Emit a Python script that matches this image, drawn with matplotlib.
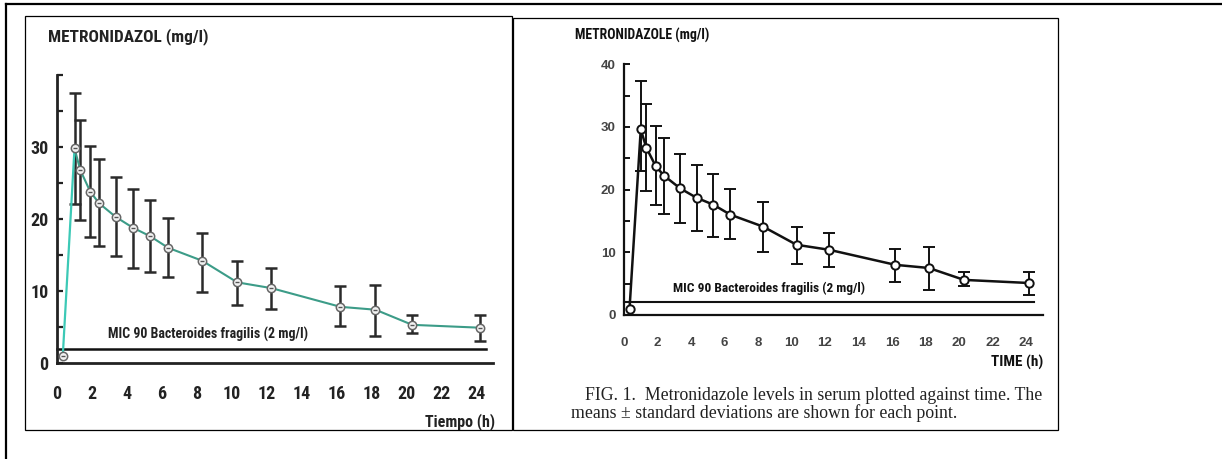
import matplotlib.pyplot as plt
from matplotlib.patches import Rectangle
from matplotlib.lines import Line2D

W, H = 1222, 459

# sampling times (h) and serum levels (mg/l)
tiempo = [0.33, 1.0, 1.33, 1.9, 2.4, 3.35, 4.33, 5.33, 6.35, 8.3, 10.3, 12.25, 16.2, 18.2, 20.3, 24.2]

# left panel (spanish redraw)
media_izq = [1.0, 29.8, 26.8, 23.8, 22.2, 20.3, 18.8, 17.6, 16.0, 14.2, 11.2, 10.4, 7.8, 7.4, 5.3, 4.9]
sup_izq = [None, 37.5, 33.8, 30.1, 28.3, 25.8, 24.2, 22.6, 20.1, 18.1, 14.2, 13.2, 10.7, 10.9, 6.6, 6.6]
inf_izq = [None, 22.1, 19.9, 17.5, 16.2, 14.8, 13.2, 12.6, 12.0, 9.9, 8.1, 7.5, 5.1, 3.7, 4.2, 3.0]

# right panel (original figure)
media_der = [1.0, 29.6, 26.7, 23.7, 22.2, 20.2, 18.7, 17.6, 16.0, 14.1, 11.2, 10.4, 8.0, 7.5, 5.6, 5.1]
sup_der = [None, 37.3, 33.7, 30.1, 28.2, 25.7, 24.0, 22.5, 20.1, 18.1, 14.1, 13.1, 10.6, 10.9, 6.9, 6.9]
inf_der = [None, 22.9, 19.7, 17.6, 16.1, 14.7, 13.4, 12.5, 12.1, 10.1, 8.2, 7.6, 5.2, 4.0, 4.6, 3.2]

mic = 2.0
x_ticks = list(range(0, 25, 2))
y_major = [0, 10, 20, 30, 40]
y_minor = [5, 15, 25, 35]

NARROW = ['Roboto Condensed', 'Liberation Sans Narrow', 'Roboto', 'DejaVu Sans']
SANS = ['Liberation Sans', 'DejaVu Sans']
SERIF = ['Liberation Serif', 'DejaVu Serif']


def fx(px):
    return px / W


def fy(py):
    return 1 - py / H


def make_axes(fig, x0, sx, y0, sy, xlim, ylim):
    # x0/y0: pixel of data 0, sx/sy: pixels per unit
    left = x0 + xlim[0] * sx
    right = x0 + xlim[1] * sx
    bottom = y0 - ylim[0] * sy
    top = y0 - ylim[1] * sy
    ax = fig.add_axes([fx(left), fy(bottom), (right - left) / W, (bottom - top) / H])
    ax.set_xlim(*xlim)
    ax.set_ylim(*ylim)
    ax.patch.set_alpha(0)
    ax.spines['top'].set_visible(False)
    ax.spines['right'].set_visible(False)
    ax.spines['left'].set_position(('data', 0))
    ax.spines['bottom'].set_position(('data', 0))
    return ax


fig = plt.figure(figsize=(W / 100, H / 100), dpi=100)
fig.patch.set_facecolor('white')

# outer frame and the two panel boxes
fig.add_artist(Line2D([fx(6), fx(1222)], [fy(4), fy(4)], color='black', lw=1.6))
fig.add_artist(Line2D([fx(6), fx(6)], [fy(4), fy(459)], color='black', lw=1.6))
fig.add_artist(Rectangle((fx(25), fy(430)), (512 - 25) / W, (430 - 16) / H,
                         fill=False, ec='black', lw=0.9))
fig.add_artist(Rectangle((fx(513), fy(430)), (1058 - 513) / W, (430 - 18) / H,
                         fill=False, ec='black', lw=0.9))

# ---------------- left panel ----------------
ax1 = make_axes(fig, 57, 17.5, 363, 7.2, (-0.6, 25.8), (-1.5, 41))
ax1.spines['left'].set_bounds(0, 40)
ax1.spines['bottom'].set_bounds(0, 24.9)
for s in ('left', 'bottom'):
    ax1.spines[s].set_linewidth(2.0)
    ax1.spines[s].set_color('#222222')
ax1.set_yticks(y_major)
ax1.set_yticklabels(['0', '10', '20', '30', ''])
ax1.set_yticks(y_minor, minor=True)
ax1.tick_params(axis='y', which='both', direction='in', length=4.5, width=1.6,
                color='#222222', pad=6, labelsize=13)
ax1.set_xticks(x_ticks)
ax1.tick_params(axis='x', length=0, pad=16, labelsize=13)
for lab in ax1.get_xticklabels() + ax1.get_yticklabels():
    lab.set_family(NARROW)
    lab.set_fontweight('bold')
    lab.set_color('#222222')

ax1.plot([0, 24.5], [mic, mic], color='#111111', lw=1.8)
ax1.text(2.9, 4.0, 'MIC 90 Bacteroides fragilis (2 mg/l)', family=NARROW,
         fontweight='bold', fontsize=10, color='#222222', va='center')

err_lo = [m - lo if lo is not None else 0 for m, lo in zip(media_izq, inf_izq)]
err_hi = [hi - m if hi is not None else 0 for m, hi in zip(media_izq, sup_izq)]
ax1.errorbar(tiempo[1:], media_izq[1:], yerr=[err_lo[1:], err_hi[1:]], fmt='none',
             ecolor='#2a2a2a', elinewidth=1.8, capsize=4, capthick=1.8, zorder=2)
# first rise is a brighter cyan, the rest a darker teal
ax1.plot(tiempo[:2], media_izq[:2], color='#3cc9b6', lw=1.6, zorder=3)
ax1.plot(tiempo[1:], media_izq[1:], color='#3c9c88', lw=1.5, zorder=3)
ax1.plot(tiempo, media_izq, 'o', ms=6, mfc='#f2f2f2', mec='#666666', mew=1.1, zorder=4)
ax1.plot(tiempo, media_izq, '_', ms=3, mec='#555555', mew=1.0, zorder=5)

fig.text(fx(48), fy(37), 'METRONIDAZOL (mg/l)', family=NARROW, fontweight='bold',
         fontsize=12.4, color='#222222', va='center', ha='left')
fig.text(fx(495), fy(422), 'Tiempo (h)', family=NARROW, fontweight='bold',
         fontsize=11.5, color='#222222', va='center', ha='right')

# ---------------- right panel ----------------
ax2 = make_axes(fig, 624, 16.75, 315, 6.27, (-0.6, 25.8), (-1.5, 41.5))
ax2.spines['left'].set_bounds(0, 40)
ax2.spines['bottom'].set_bounds(0, 25.0)
for s in ('left', 'bottom'):
    ax2.spines[s].set_linewidth(1.6)
    ax2.spines[s].set_color('#111111')
ax2.set_yticks(y_major)
ax2.set_yticks(y_minor, minor=True)
ax2.tick_params(axis='y', which='both', direction='in', length=4, width=1.4,
                color='#111111', pad=6, labelsize=9.5)
ax2.set_xticks(x_ticks)
ax2.tick_params(axis='x', length=0, pad=16, labelsize=9.5)
for lab in ax2.get_xticklabels() + ax2.get_yticklabels():
    lab.set_family(SANS)
    lab.set_fontweight('bold')
    lab.set_color('#444444')

ax2.plot([0, 24.5], [mic, mic], color='#111111', lw=1.5)
ax2.text(2.9, 4.3, 'MIC 90 Bacteroides fragilis (2 mg/l)', family=NARROW,
         fontweight='bold', fontsize=9.6, color='#111111', va='center')

err_lo = [m - lo if lo is not None else 0 for m, lo in zip(media_der, inf_der)]
err_hi = [hi - m if hi is not None else 0 for m, hi in zip(media_der, sup_der)]
ax2.errorbar(tiempo[1:], media_der[1:], yerr=[err_lo[1:], err_hi[1:]], fmt='none',
             ecolor='#111111', elinewidth=1.4, capsize=4, capthick=1.4, zorder=2)
ax2.plot(tiempo, media_der, color='#111111', lw=1.8, zorder=3)
ax2.plot(tiempo, media_der, 'o', ms=6, mfc='white', mec='#111111', mew=1.4, zorder=4)

fig.text(fx(575), fy(35), 'METRONIDAZOLE (mg/l)', family=NARROW, fontweight='bold',
         fontsize=9.9, color='#111111', va='center', ha='left')
fig.text(fx(1043), fy(362), 'TIME (h)', family=NARROW, fontweight='bold',
         fontsize=11, color='#111111', va='center', ha='right')
fig.text(fx(585), fy(395), 'FIG. 1.  Metronidazole levels in serum plotted against time. The',
         family=SERIF, fontsize=12.8, color='#222222', va='center', ha='left')
fig.text(fx(571), fy(413), 'means \u00b1 standard deviations are shown for each point.',
         family=SERIF, fontsize=12.8, color='#222222', va='center', ha='left')

fig.savefig('out.png', dpi=100, facecolor='white')
